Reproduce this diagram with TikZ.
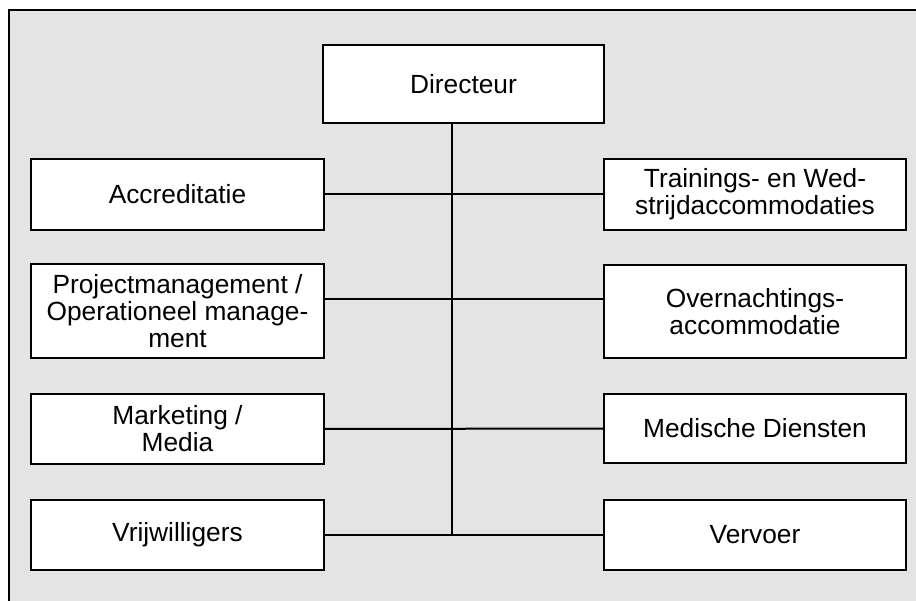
\documentclass[tikz,border=0pt]{standalone}
\usepackage{fontspec}
\setmainfont{Liberation Sans}
\definecolor{bg}{RGB}{228,228,228}
\begin{document}
\begin{tikzpicture}[x=1pt,y=-1pt,
  box/.style={draw=black,fill=white,line width=2pt,align=center,inner sep=0pt,
    font=\fontsize{26.3}{27}\selectfont},
  lbox/.style={box,minimum width=293pt},
  rbox/.style={box,minimum width=302pt},
  conn/.style={line width=2pt}]
\useasboundingbox (0,0) rectangle (916,601);
\fill[bg] (9,10) rectangle (916,601);
\draw[line width=2pt] (9.3,601) -- (9.3,10) -- (916,10);

\node[box,minimum width=281pt,minimum height=78pt] (dir) at (463.5,84) {Directeur};

\node[lbox,minimum height=71pt] (acc) at (177.5,194.5) {Accreditatie};
\node[lbox,minimum height=94pt] (proj) at (177.5,311) {Projectmanagement /\\Operationeel manage-\\ment};
\node[lbox,minimum height=70pt] (mark) at (177.5,429) {Marketing /\\Media};
\node[lbox,minimum height=70pt] (vrij) at (177.5,535) {Vrijwilligers};

\node[rbox,minimum height=71pt] (train) at (755,194.5) {Trainings- en Wed-\\strijdaccommodaties};
\node[rbox,minimum height=93pt] (overn) at (755,311.5) {Overnachtings-\\accommodatie};
\node[rbox,minimum height=69pt] (med) at (755,428.5) {Medische Diensten};
\node[rbox,minimum height=70pt] (verv) at (755,535) {Vervoer};

\coordinate (sp) at (452,535);
\coordinate (r2) at (452,299);

\draw[conn] (dir.south -| sp) -- (sp);
\draw[conn] (acc) -- (train);
\draw[conn] (proj.east |- r2) -- (overn.west |- r2);
\draw[conn] (mark) -- (med);
\draw[conn] (vrij) -- (verv);
\end{tikzpicture}
\end{document}
